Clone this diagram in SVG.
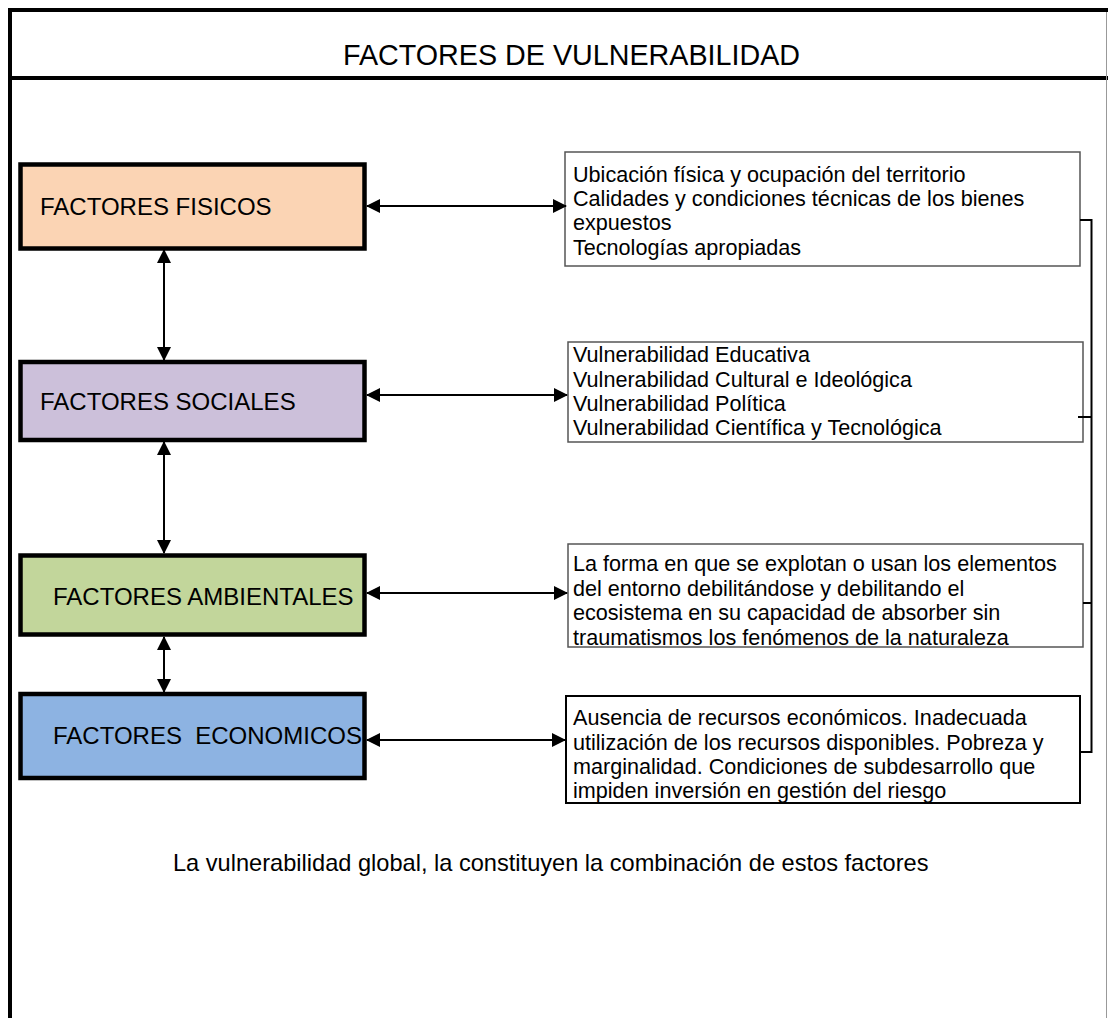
<svg xmlns="http://www.w3.org/2000/svg" width="1108" height="1018" viewBox="0 0 1108 1018">
<defs>
<marker id="ah" viewBox="0 0 14 14" refX="13" refY="7" markerWidth="14" markerHeight="14" markerUnits="userSpaceOnUse" orient="auto-start-reverse">
<path d="M0,0 L14,7 L0,14 Z" fill="#000"/>
</marker>
<style>
.t{font-family:"Liberation Sans",Arial,sans-serif;fill:#000}
.lbl{font-size:24px}
.box{font-size:21.6px}
.fac{stroke:#000;stroke-width:4.5}
.info{fill:#fff;stroke:#555;stroke-width:1.5}
.con{stroke:#000;stroke-width:2;fill:none}
</style>
</defs>
<rect x="0" y="0" width="1108" height="1018" fill="#fff"/>
<g id="frame">
<line x1="10" y1="8" x2="10" y2="1018" stroke="#000" stroke-width="4"/>
<line x1="8" y1="10" x2="1108" y2="10" stroke="#000" stroke-width="4"/>
<line x1="8" y1="78" x2="1108" y2="78" stroke="#000" stroke-width="4"/>
<line x1="1106.5" y1="12" x2="1106.5" y2="1018" stroke="#999" stroke-width="1"/>
<text class="t" x="571.5" y="65" font-size="28.7" text-anchor="middle">FACTORES DE VULNERABILIDAD</text>
</g>
<g id="fisicos">
<rect class="fac" x="20.5" y="164.5" width="344" height="84" fill="#FBD4B4"/>
<text class="t lbl" x="40" y="215">FACTORES FISICOS</text>
</g>
<g id="sociales">
<rect class="fac" x="20.5" y="362" width="344" height="78" fill="#CCC0DA"/>
<text class="t lbl" x="40" y="410">FACTORES SOCIALES</text>
</g>
<g id="ambientales">
<rect class="fac" x="20.5" y="555.5" width="344" height="79" fill="#C2D69B"/>
<text class="t lbl" x="53" y="605">FACTORES AMBIENTALES</text>
</g>
<g id="economicos">
<rect class="fac" x="20.5" y="694" width="344" height="84" fill="#8DB3E2"/>
<text class="t lbl" x="53" y="744" xml:space="preserve">FACTORES  ECONOMICOS</text>
</g>
<g id="fisicos-detalle">
<rect class="info" x="565" y="152" width="515" height="114"/>
<text class="t box"><tspan x="573" y="182">Ubicación física y ocupación del territorio</tspan><tspan x="573" y="206">Calidades y condiciones técnicas de los bienes</tspan><tspan x="573" y="230">expuestos</tspan><tspan x="573" y="255">Tecnologías apropiadas</tspan></text>
</g>
<g id="sociales-detalle">
<rect class="info" x="568" y="342" width="515" height="100"/>
<text class="t box"><tspan x="573" y="362">Vulnerabilidad Educativa</tspan><tspan x="573" y="387">Vulnerabilidad Cultural e Ideológica</tspan><tspan x="573" y="411">Vulnerabilidad Política</tspan><tspan x="573" y="435">Vulnerabilidad Científica y Tecnológica</tspan></text>
</g>
<g id="ambientales-detalle">
<rect class="info" x="568" y="544" width="515" height="103"/>
<text class="t box"><tspan x="573" y="571">La forma en que se explotan o usan los elementos</tspan><tspan x="573" y="596">del entorno debilitándose y debilitando el</tspan><tspan x="573" y="620">ecosistema en su capacidad de absorber sin</tspan><tspan x="573" y="645">traumatismos los fenómenos de la naturaleza</tspan></text>
</g>
<g id="economicos-detalle">
<rect x="566" y="696" width="514" height="107" fill="#fff" stroke="#000" stroke-width="2"/>
<text class="t box"><tspan x="573" y="725">Ausencia de recursos económicos. Inadecuada</tspan><tspan x="573" y="750">utilización de los recursos disponibles. Pobreza y</tspan><tspan x="573" y="774">marginalidad. Condiciones de subdesarrollo que</tspan><tspan x="573" y="798">impiden inversión en gestión del riesgo</tspan></text>
</g>
<g id="nota">
<text class="t" x="173" y="871" font-size="23.6">La vulnerabilidad global, la constituyen la combinación de estos factores</text>
</g>
<g id="connectors">
<line class="con" x1="164" y1="250" x2="164" y2="360" marker-start="url(#ah)" marker-end="url(#ah)"/>
<line class="con" x1="164" y1="442" x2="164" y2="553" marker-start="url(#ah)" marker-end="url(#ah)"/>
<line class="con" x1="164" y1="637" x2="164" y2="692" marker-start="url(#ah)" marker-end="url(#ah)"/>
<line class="con" x1="367" y1="206" x2="566" y2="206" marker-start="url(#ah)" marker-end="url(#ah)"/>
<line class="con" x1="367" y1="395" x2="567" y2="395" marker-start="url(#ah)" marker-end="url(#ah)"/>
<line class="con" x1="367" y1="593" x2="567" y2="593" marker-start="url(#ah)" marker-end="url(#ah)"/>
<line class="con" x1="367" y1="740" x2="565" y2="740" marker-start="url(#ah)" marker-end="url(#ah)"/>
<path class="con" d="M1080,220 H1091.5 V752 H1080 M1078,417 H1091.5 M1083,603 H1091.5"/>
</g>
</svg>
